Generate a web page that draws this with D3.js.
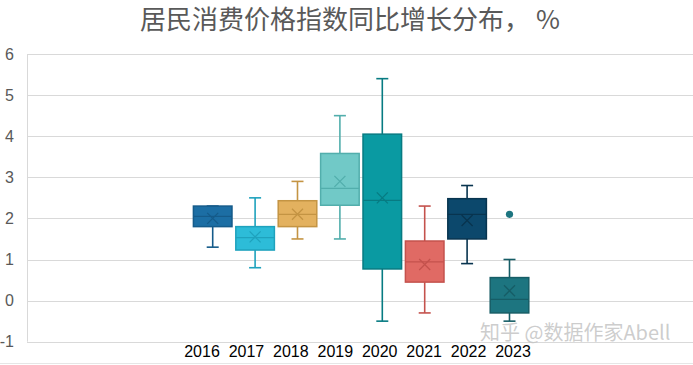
<!DOCTYPE html>
<html>
<head>
<meta charset="utf-8">
<script src="https://cdn.jsdelivr.net/npm/d3@7"></script>
<style>
  html, body { margin: 0; padding: 0; background: #fff; }
  svg { display: block; }
</style>
</head>
<body>
<svg id="chart" width="693" height="365"></svg>
<script>
// ---- data ----
const title = "居民消费价格指数同比增长分布， %";
const categories = ["2016", "2017", "2018", "2019", "2020", "2021", "2022", "2023"];
const mins    = [1.3, 0.8, 1.5, 1.5, -0.5, -0.3, 0.9, -0.5];
const q1s     = [1.8, 1.23, 1.8, 2.32, 0.77, 0.45, 1.5, -0.3];
const medians = [2.05, 1.53, 2.1, 2.73, 2.44, 0.94, 2.1, 0.03];
const q3s     = [2.3, 1.8, 2.43, 3.58, 4.05, 1.45, 2.48, 0.56];
const maxs    = [2.3, 2.5, 2.9, 4.5, 5.4, 2.3, 2.8, 1.0];
const means   = [2.0, 1.55, 2.1, 2.9, 2.5, 0.88, 1.95, 0.24];
const outliers = [[], [], [], [], [], [], [], [2.1]];
const fills   = ["#1c6ea4", "#2dbcd8", "#e3b15f", "#71c9c7", "#0a9aa2", "#e06a64", "#0c486c", "#1d7580"];
const strokes = ["#155b8a", "#1fa2bd", "#c49443", "#52aeac", "#077b82", "#c4524d", "#08344f", "#165d66"];
const yTicks  = [-1, 0, 1, 2, 3, 4, 5, 6];

// ---- layout ----
const svg = d3.select("#chart");
const plotLeft = 27, plotRight = 693;
const y = d3.scaleLinear().domain([-1, 6]).range([341.7, 54]);
const x = d3.scaleBand().domain(categories).range([191.5, 530.7]).paddingInner(0.09).paddingOuter(0.045);
const xLabel = d3.scalePoint().domain(categories).range([202, 513]);

// gridlines
svg.append("g").selectAll("line").data(yTicks).join("line")
  .attr("x1", plotLeft).attr("x2", plotRight)
  .attr("y1", d => Math.round(y(d)) + 0.5).attr("y2", d => Math.round(y(d)) + 0.5)
  .attr("stroke", "#d9d9d9").attr("stroke-width", 1);
svg.append("line")
  .attr("x1", plotLeft + 0.5).attr("x2", plotLeft + 0.5)
  .attr("y1", y(6)).attr("y2", y(-1))
  .attr("stroke", "#d9d9d9");
svg.append("line")
  .attr("x1", 0).attr("x2", 693).attr("y1", 363.5).attr("y2", 363.5)
  .attr("stroke", "#e6e6e6");

// y axis labels
svg.append("g").selectAll("text").data(yTicks).join("text")
  .attr("x", 14).attr("y", d => y(d))
  .attr("dy", "0.36em")
  .attr("text-anchor", "end")
  .attr("font-family", "Liberation Sans, Arial, sans-serif")
  .attr("font-size", 16)
  .attr("fill", "#595959")
  .text(d => d);

// title
svg.append("text")
  .attr("x", 350).attr("y", 29)
  .attr("text-anchor", "middle")
  .attr("font-family", "Noto Sans CJK SC, sans-serif")
  .attr("font-size", 26)
  .attr("fill", "#595959")
  .attr("xml:space", "preserve")
  .style("white-space", "pre")
  .text(title);

// boxes
const bw = x.bandwidth();
const cap = 12;
const g = svg.append("g");
categories.forEach((c, i) => {
  const cx = x(c) + bw / 2;
  const gg = g.append("g");
  // whiskers
  gg.append("line").attr("x1", cx).attr("x2", cx).attr("y1", y(maxs[i])).attr("y2", y(q3s[i]))
    .attr("stroke", strokes[i]).attr("stroke-width", 1.6);
  gg.append("line").attr("x1", cx).attr("x2", cx).attr("y1", y(q1s[i])).attr("y2", y(mins[i]))
    .attr("stroke", strokes[i]).attr("stroke-width", 1.6);
  gg.append("line").attr("x1", cx - cap / 2).attr("x2", cx + cap / 2).attr("y1", y(maxs[i])).attr("y2", y(maxs[i]))
    .attr("stroke", strokes[i]).attr("stroke-width", 1.6);
  gg.append("line").attr("x1", cx - cap / 2).attr("x2", cx + cap / 2).attr("y1", y(mins[i])).attr("y2", y(mins[i]))
    .attr("stroke", strokes[i]).attr("stroke-width", 1.6);
  // box
  gg.append("rect")
    .attr("x", x(c)).attr("width", bw)
    .attr("y", y(q3s[i])).attr("height", y(q1s[i]) - y(q3s[i]))
    .attr("fill", fills[i]).attr("stroke", strokes[i]).attr("stroke-width", 1.5);
  // median
  gg.append("line").attr("x1", x(c)).attr("x2", x(c) + bw).attr("y1", y(medians[i])).attr("y2", y(medians[i]))
    .attr("stroke", strokes[i]).attr("stroke-width", 1.3);
  // mean X
  const my = y(means[i]), s = 5.5;
  gg.append("path")
    .attr("d", `M${cx - s},${my - s}L${cx + s},${my + s}M${cx - s},${my + s}L${cx + s},${my - s}`)
    .attr("stroke", strokes[i]).attr("stroke-width", 1.3).attr("fill", "none");
  // outliers
  gg.selectAll("circle").data(outliers[i]).join("circle")
    .attr("cx", cx).attr("cy", d => y(d)).attr("r", 3.6)
    .attr("fill", fills[i]);
});

// category labels
svg.append("g").selectAll("text").data(categories).join("text")
  .attr("x", d => xLabel(d)).attr("y", 357)
  .attr("text-anchor", "middle")
  .attr("font-family", "Liberation Sans, Arial, sans-serif")
  .attr("font-size", 16)
  .attr("fill", "#000")
  .text(d => d);

// watermark
svg.append("text")
  .attr("x", 480).attr("y", 340)
  .attr("font-family", "Noto Sans CJK SC, sans-serif")
  .attr("font-size", 20)
  .attr("fill", "#c4c4c4")
  .attr("fill-opacity", 0.85)
  .text("知乎 @数据作家Abell");
</script>
</body>
</html>
